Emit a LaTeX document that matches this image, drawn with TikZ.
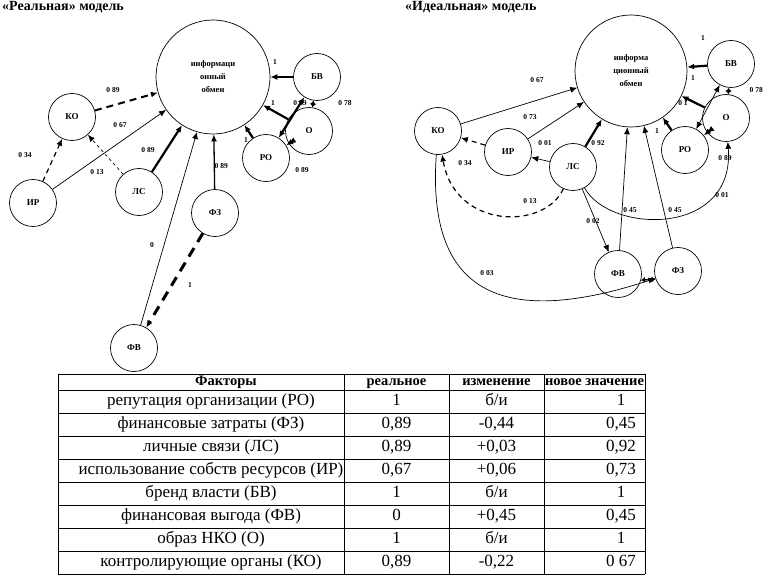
\documentclass[tikz,border=0pt]{standalone}
\usepackage{fontspec}
\setmainfont{Liberation Serif}
\usetikzlibrary{arrows.meta}
\tikzset{
    vertex/.style={circle,draw,line width=0.7pt,minimum size=47pt,inner sep=0pt,font=\fontsize{9}{10}\selectfont\bfseries},
    bigvertex/.style={vertex,minimum size=114pt,align=center,font=\fontsize{8.5}{13}\selectfont\bfseries},
    wlabel/.style={font=\fontsize{7.5}{8}\selectfont\bfseries,inner sep=0.5pt},
    edge/.style={->,> = {Latex[length=7pt,width=6pt]},line width=0.7pt},
    medge/.style={edge,line width=1.3pt},
    bedge/.style={edge,line width=2.2pt},
    tdash/.style={edge,dash pattern=on 3pt off 3pt},
    ddash/.style={edge,line width=1.2pt,dash pattern=on 5pt off 4pt},
    bdash/.style={edge,line width=2pt,dash pattern=on 7pt off 5pt},
    hdash/.style={edge,line width=3pt,dash pattern=on 10pt off 7pt},
    shorttip/.style={<->,> = {Latex[length=4pt,width=6pt]}},
    title/.style={font=\fontsize{14}{16}\selectfont\bfseries,inner sep=0pt},
    cell/.style={font=\fontsize{17}{18}\selectfont,inner sep=0pt,text height=11.5pt,text depth=3.5pt},
    hcell/.style={font=\fontsize{14.5}{16}\selectfont\bfseries,inner sep=0pt,text height=10pt,text depth=3pt},
}
\begin{document}
\begin{tikzpicture}[x=1pt,y=-1pt]
    \useasboundingbox (0,0) rectangle (766,575);
    \node[title,anchor=base west] (t1) at (2,11) {«Реальная» модель};
    \node[title,anchor=base west] (t2) at (405,11) {«Идеальная» модель};

    % real model
    \node[bigvertex] (info1) at (213,77) {информаци\\онный\\обмен};
    \node[vertex] (bv1) at (317,77) {БВ};
    \node[vertex] (o1) at (309,131) {О};
    \node[vertex] (ro1) at (266,158) {РО};
    \node[vertex] (ko1) at (72,117) {КО};
    \node[vertex] (ls1) at (139,192) {ЛС};
    \node[vertex] (ir1) at (33,203) {ИР};
    \node[vertex] (fz1) at (215,213) {ФЗ};
    \node[vertex] (fv1) at (134,348) {ФВ};
    \draw[bdash] (ko1) -- (info1);
    \draw[edge] (ir1) -- (info1);
    \draw[ddash] (ir1) -- (ko1);
    \draw[tdash] (ls1) -- (ko1);
    \draw[bedge] (ls1) -- (info1);
    \draw[edge] (fv1) -- (info1);
    \draw[medge] (fz1) -- (info1);
    \draw[hdash] (fz1) -- (fv1);
    \draw[bedge] (bv1) -- (info1);
    \draw[bedge] (o1) -- (info1);
    \draw[bedge] (ro1) -- (info1);
    \draw[bedge,<->] (bv1) -- (ro1);
    \draw[bedge,shorttip] (bv1) -- (o1);
    \draw[bedge,<->] (o1) -- (ro1);
    \node[wlabel] (a1) at (113,90) {0 89};
    \node[wlabel] (a2) at (120,125) {0 67};
    \node[wlabel] (a3) at (25,155) {0 34};
    \node[wlabel] (a4) at (97,172) {0 13};
    \node[wlabel] (a5) at (148,150) {0 89};
    \node[wlabel] (a6) at (152,245) {0};
    \node[wlabel,anchor=west] (a7) at (214,166) {0 89};
    \node[wlabel] (a8) at (190,285) {1};
    \node[wlabel] (a9) at (275,62) {1};
    \node[wlabel] (a10) at (273,103) {1};
    \node[wlabel] (a11) at (246,140) {1};
    \node[wlabel] (a12) at (300,103) {0 89};
    \node[wlabel] (a13) at (345,103) {0 78};
    \node[wlabel] (a14) at (302,170) {0 89};

    % ideal model
    \node[bigvertex,minimum size=112pt] (info2) at (631,71) {информа\\ционный\\обмен};
    \node[vertex] (bv2) at (731,64) {БВ};
    \node[vertex] (o2) at (726,118) {О};
    \node[vertex] (ro2) at (685,150) {РО};
    \node[vertex] (ko2) at (438,131) {КО};
    \node[vertex] (ir2) at (508,152) {ИР};
    \node[vertex] (ls2) at (573,167) {ЛС};
    \node[vertex] (fv2) at (618,274) {ФВ};
    \node[vertex] (fz2) at (678,271) {ФЗ};
    \draw[edge] (ko2) -- (info2);
    \draw[edge] (ir2) -- (info2);
    \draw[ddash] (ir2) -- (ko2);
    \draw[edge] (ls2) -- (ir2);
    \draw[bedge] (ls2) -- (info2);
    \draw[ddash] (ls2) .. controls (545,230) and (455,230) .. (ko2);
    \draw[edge] (ls2) -- (fv2);
    \draw[edge] (ls2) .. controls (610,234) and (735,237) .. (o2);
    \draw[edge] (fv2) -- (info2);
    \draw[edge] (fz2) -- (info2);
    \draw[edge] (ko2) .. controls (426,300) and (510,326) .. (fz2);
    \draw[medge,shorttip] (fv2.-15) -- (fz2.200);
    \draw[bedge] (bv2) -- (info2);
    \draw[bedge] (o2) -- (info2);
    \draw[edge,<->] (bv2) -- (ro2);
    \draw[bedge] (ro2) -- (info2);
    \draw[bedge,shorttip] (bv2) -- (o2);
    \draw[bedge,<->] (o2) -- (ro2);
    \node[wlabel] (b1) at (537,80) {0 67};
    \node[wlabel] (b2) at (530,117) {0 73};
    \node[wlabel] (b3) at (465,163) {0 34};
    \node[wlabel] (b4) at (545,143) {0 01};
    \node[wlabel] (b5) at (598,143) {0 92};
    \node[wlabel] (b6) at (530,201) {0 13};
    \node[wlabel] (b7) at (593,221) {0 02};
    \node[wlabel] (b8) at (722,195) {0 01};
    \node[wlabel] (b9) at (630,210) {0 45};
    \node[wlabel] (b10) at (675,210) {0 45};
    \node[wlabel] (b11) at (487,273) {0 03};
    \node[wlabel] (b12) at (703,38) {1};
    \node[wlabel] (b13) at (683,103) {0 1};
    \node[wlabel] (b14) at (693,78) {1};
    \node[wlabel] (b15) at (657,131) {1};
    \node[wlabel,anchor=west] (b16) at (749,90) {0 78};
    \node[wlabel] (b17) at (725,158) {0 89};

    % table
    \draw[line width=0.9pt] (58,374) -- (645,374);
    \foreach \k in {0,...,8}
        \draw[line width=0.6pt] (58,390+23*\k) -- (645,390+23*\k);
    \foreach \xl in {58,344,449,544,645}
        \draw[line width=0.6pt] (\xl,374) -- (\xl,574);
    \node[hcell] (h1) at (226,382) {Факторы};
    \node[hcell] (h2) at (396.5,382) {реальное};
    \node[hcell] (h3) at (496.5,382) {изменение};
    \node[hcell] (h4) at (594.5,382) {новое значение};
    \foreach \fname/\real/\chg/\new [count=\i] in {
        {репутация организации (РО)}/1/{б/и}/1,
        {финансовые затраты (ФЗ)}/{0,89}/{-0,44}/{0,45},
        {личные связи (ЛС)}/{0,89}/{+0,03}/{0,92},
        {использование собств  ресурсов (ИР)}/{0,67}/{+0,06}/{0,73},
        {бренд власти (БВ)}/1/{б/и}/1,
        {финансовая выгода (ФВ)}/0/{+0,45}/{0,45},
        {образ НКО (О)}/1/{б/и}/1,
        {контролирующие органы (КО)}/{0,89}/{-0,22}/{0 67}} {
        \pgfmathsetmacro\yr{378.5+23*\i}
        \node[cell] (f\i) at (211,\yr) {\fname};
        \node[cell] (r\i) at (396.5,\yr) {\real};
        \node[cell] (c\i) at (496.5,\yr) {\chg};
        \node[cell] (n\i) at (621,\yr) {\new};
    }
\end{tikzpicture}
\end{document}
